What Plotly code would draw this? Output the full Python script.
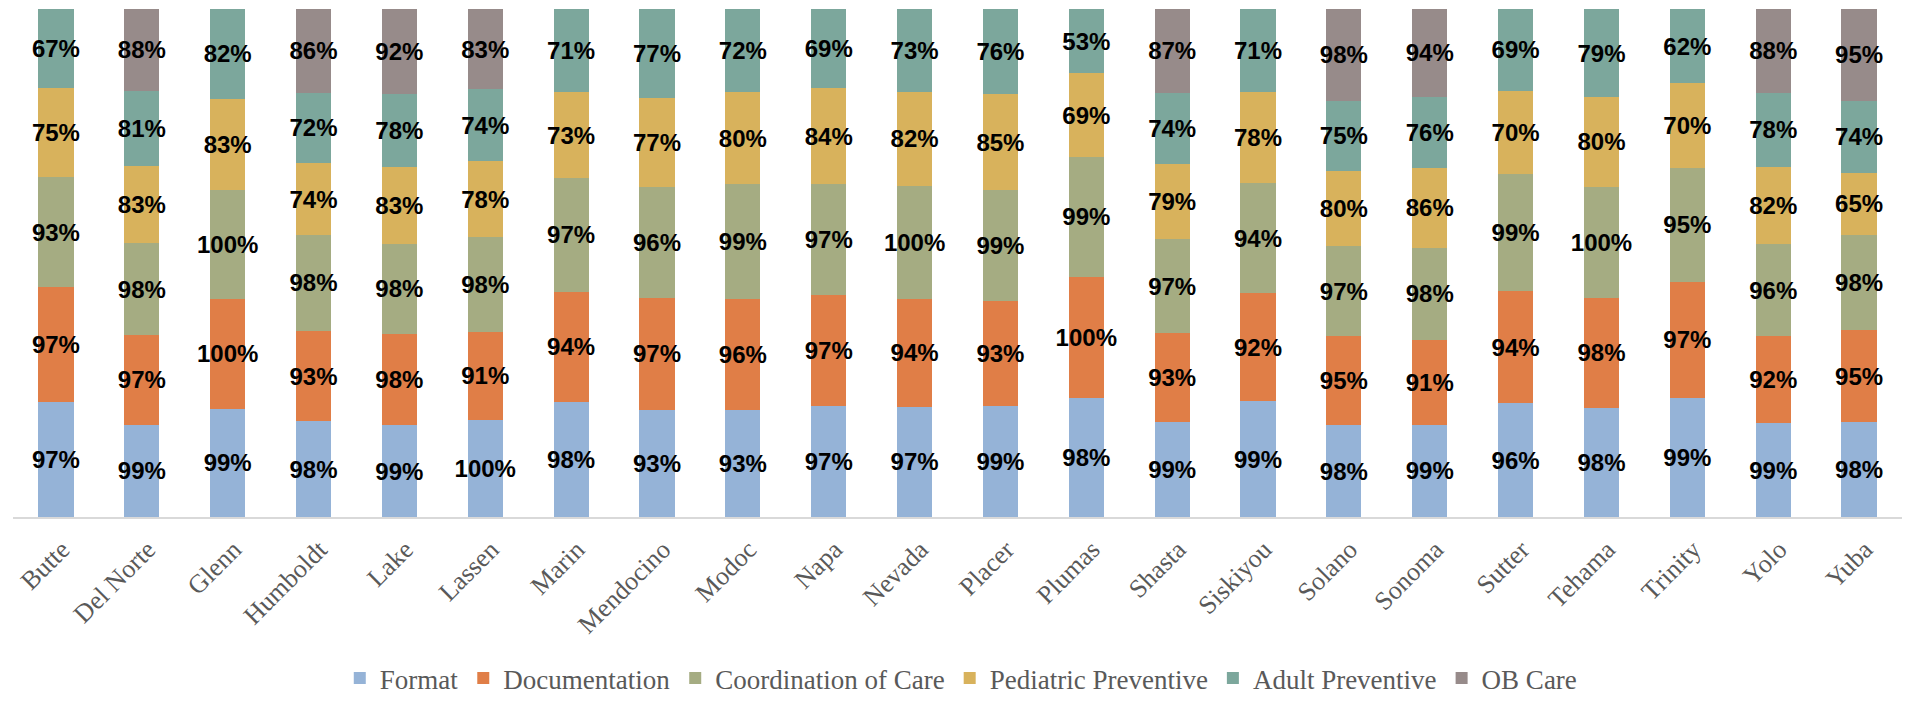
import plotly.graph_objects as go

counties = ["Butte", "Del Norte", "Glenn", "Humboldt", "Lake", "Lassen", "Marin",
            "Mendocino", "Modoc", "Napa", "Nevada", "Placer", "Plumas", "Shasta",
            "Siskiyou", "Solano", "Sonoma", "Sutter", "Tehama", "Trinity", "Yolo", "Yuba"]

fmt = [97, 99, 99, 98, 99, 100, 98, 93, 93, 97, 97, 99, 98, 99, 99, 98, 99, 96, 98, 99, 99, 98]
documentation = [97, 97, 100, 93, 98, 91, 94, 97, 96, 97, 94, 93, 100, 93, 92, 95, 91, 94, 98, 97, 92, 95]
coordination = [93, 98, 100, 98, 98, 98, 97, 96, 99, 97, 100, 99, 99, 97, 94, 97, 98, 99, 100, 95, 96, 98]
pediatric = [75, 83, 83, 74, 83, 78, 73, 77, 80, 84, 82, 85, 69, 79, 78, 80, 86, 70, 80, 70, 82, 65]
adult = [67, 81, 82, 72, 78, 74, 71, 77, 72, 69, 73, 76, 53, 74, 71, 75, 76, 69, 79, 62, 78, 74]
ob_care = [None, 88, None, 86, 92, 83, None, None, None, None, None, None, None, 87,
           None, 98, 94, None, None, None, 88, 95]

series = [
    ("Format", fmt, "#95B3D7"),
    ("Documentation", documentation, "#E07E47"),
    ("Coordination of Care", coordination, "#A5AC82"),
    ("Pediatric Preventive", pediatric, "#D8B25C"),
    ("Adult Preventive", adult, "#7CA79C"),
    ("OB Care", ob_care, "#978B8A"),
]

fig = go.Figure()
for name, vals, color in series:
    fig.add_trace(go.Bar(
        name=name,
        x=counties,
        y=vals,
        marker=dict(color=color, line=dict(width=0)),
        text=[f"{v}%" if v is not None else "" for v in vals],
        texttemplate="%{text}",
        textposition="inside",
        insidetextanchor="middle",
        textangle=0,
        constraintext="none",
        insidetextfont=dict(family="Liberation Sans, Arial", size=24, color="#000000",
                            weight="bold"),
        hoverinfo="skip",
    ))

fig.update_layout(
    barmode="stack",
    barnorm="percent",
    bargap=0.59,
    width=1905,
    height=706,
    margin=dict(l=13, r=3, t=9, b=179),
    paper_bgcolor="white",
    plot_bgcolor="white",
    showlegend=True,
    legend=dict(
        orientation="h",
        x=0.502, xanchor="center",
        y=-0.318, yanchor="middle",
        font=dict(family="Liberation Serif, Times New Roman", size=27, color="#595959"),
        itemwidth=30,
        traceorder="normal",
    ),
    xaxis=dict(
        showline=True,
        linecolor="#D9D9D9",
        linewidth=2,
        ticks="",
        tickangle=-45,
        ticklabelshift=6,
        ticklabelstandoff=5,
        tickfont=dict(family="Liberation Serif, Times New Roman", size=26, color="#595959"),
        showgrid=False,
    ),
    yaxis=dict(
        range=[0, 100],
        visible=False,
        showgrid=False,
    ),
)

fig.write_html("out.html")
